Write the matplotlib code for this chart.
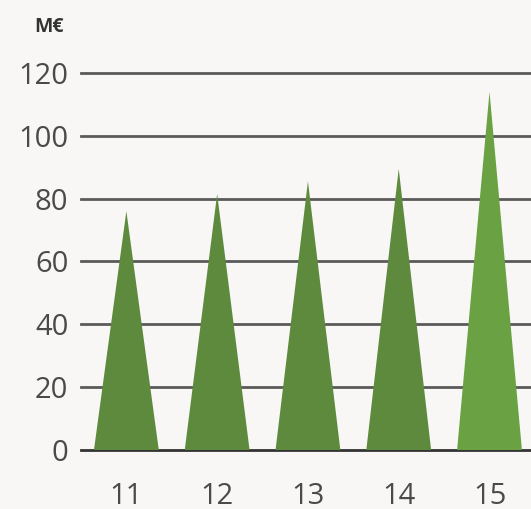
import numpy as np
import matplotlib.pyplot as plt

years = ['11', '12', '13', '14', '15']
values = [76, 81.5, 85.5, 89.5, 114]
colors = ['#5e8a3e', '#5e8a3e', '#5e8a3e', '#5e8a3e', '#6aa142']
yticks = [0, 20, 40, 60, 80, 100, 120]

plt.rcParams['font.family'] = ['Open Sans', 'DejaVu Sans']

fig = plt.figure(figsize=(5.31, 5.09), dpi=100, facecolor='#f8f7f5')
ax = fig.add_axes([0.1525, 0.1159, 0.8475, 0.7407])
ax.set_facecolor('#f8f7f5')

for t in yticks:
    c = '#333333' if t == 0 else '#5a5a5a'
    ax.axhline(t, color=c, lw=2, clip_on=False, zorder=1)

half = 0.357
for i, (v, c) in enumerate(zip(values, colors)):
    ax.fill([i - half, i, i + half], [0, v, 0], color=c, lw=0, zorder=2)

ax.set_xlim(-0.5, 4.457)
ax.set_ylim(0, 120)
ax.set_xticks(range(len(years)))
ax.set_xticklabels(years)
ax.set_yticks(yticks)
ax.tick_params(length=0, labelsize=21, colors='#4a4a4a')
ax.tick_params(axis='y', pad=9)
ax.tick_params(axis='x', pad=23)
for s in ax.spines.values():
    s.set_visible(False)

fig.text(0.092, 0.947, 'M€', fontsize=14, fontweight='bold', color='#333333',
         ha='center', va='center')

fig.savefig('out.png', dpi=100, facecolor=fig.get_facecolor())
